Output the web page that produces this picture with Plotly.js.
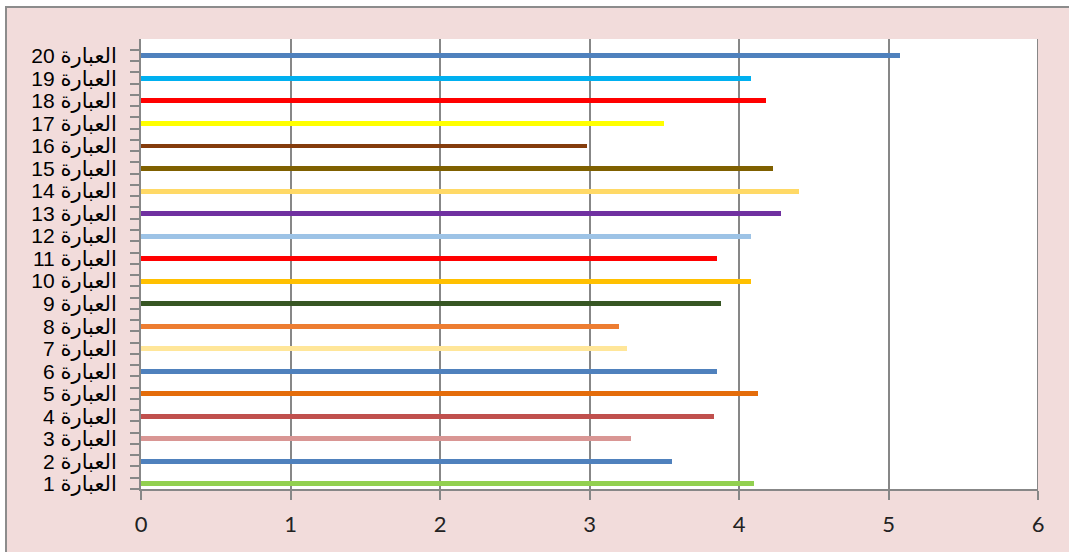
<!DOCTYPE html>
<html>
<head>
<meta charset="utf-8">
<script src="https://cdn.plot.ly/plotly-3.0.1.min.js"></script>
<style>
  html, body { margin: 0; padding: 0; background: #ffffff; overflow: hidden; }
  #frame { position: absolute; left: 5px; top: 6px; width: 1080px; height: 560px;
           background: #f2dcdb; border-left: 2px solid #8c8c8c; border-top: 2px solid #8c8c8c; }
  #chart { position: absolute; left: 0; top: 0; width: 1069px; height: 552px; }
</style>
</head>
<body>
<div id="frame"></div>
<div id="chart"></div>
<script>
const positions = [1, 2, 3, 4, 5, 6, 7, 8, 9, 10, 11, 12, 13, 14, 15, 16, 17, 18, 19, 20];
const tickLabels = ['العبارة 1', 'العبارة 2', 'العبارة 3', 'العبارة 4', 'العبارة 5',
                    'العبارة 6', 'العبارة 7', 'العبارة 8', 'العبارة 9', 'العبارة 10',
                    'العبارة 11', 'العبارة 12', 'العبارة 13', 'العبارة 14', 'العبارة 15',
                    'العبارة 16', 'العبارة 17', 'العبارة 18', 'العبارة 19', 'العبارة 20'];
const values = [4.10, 3.55, 3.28, 3.83, 4.13, 3.85, 3.25, 3.20, 3.88, 4.08,
                3.85, 4.08, 4.28, 4.40, 4.23, 2.98, 3.50, 4.18, 4.08, 5.08];
const barColors = ['#92d050', '#4f81bd', '#d99694', '#c0504d', '#e46c0a',
                   '#4f81bd', '#ffe699', '#ed7d31', '#375623', '#ffc000',
                   '#ff0000', '#9dc3e6', '#7030a0', '#ffd966', '#7f6000',
                   '#843c0c', '#ffff00', '#ff0000', '#00b0f0', '#4f81bd'];
const xTicks = [0, 1, 2, 3, 4, 5, 6];

const trace = {
  type: 'bar',
  orientation: 'h',
  x: values,
  y: positions,
  width: 0.22,
  marker: { color: barColors, line: { width: 0 } },
  hoverinfo: 'x+y'
};

const layout = {
  width: 1069,
  height: 552,
  margin: { l: 141, r: 31, t: 39, b: 63 },
  paper_bgcolor: 'rgba(0,0,0,0)',
  plot_bgcolor: '#ffffff',
  showlegend: false,
  bargap: 0,
  xaxis: {
    range: [0, 6],
    tickvals: xTicks,
    ticktext: xTicks.map(String),
    showgrid: true,
    gridcolor: '#878787',
    gridwidth: 2,
    zeroline: false,
    showline: true,
    linecolor: '#878787',
    linewidth: 2,
    ticks: 'outside',
    ticklen: 9,
    tickwidth: 2,
    tickcolor: '#878787',
    tickfont: { family: 'Lato, Open Sans, sans-serif', size: 22, color: '#222222' },
    ticklabelstandoff: 6,
    fixedrange: true
  },
  yaxis: {
    range: [0.77, 20.75],
    tickvals: positions,
    ticktext: tickLabels,
    showgrid: false,
    zeroline: false,
    showline: true,
    linecolor: '#878787',
    linewidth: 2,
    ticks: 'outside',
    ticklen: 9,
    tickwidth: 2,
    tickcolor: 'rgba(0,0,0,0)',
    minor: { tick0: 0.77, dtick: 0.5, ticks: 'outside', ticklen: 9, tickwidth: 2, tickcolor: '#878787', showgrid: false },
    tickfont: { family: 'Liberation Sans, Arial, DejaVu Sans, sans-serif', size: 21, color: '#000000' },
    ticklabelstandoff: 9,
    fixedrange: true
  },
  shapes: [
    { type: 'line', xref: 'x', yref: 'paper', x0: 6, x1: 6, y0: 0, y1: 1,
      line: { color: '#878787', width: 2 }, layer: 'above' }
  ]
};

Plotly.newPlot('chart', [trace], layout, { displayModeBar: false, staticPlot: true });
</script>
</body>
</html>
